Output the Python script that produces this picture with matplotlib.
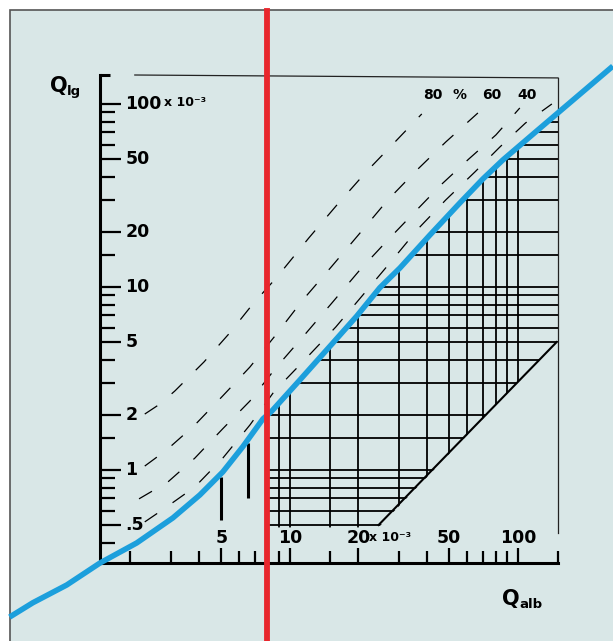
import matplotlib.pyplot as plt
import matplotlib.transforms as mtransforms
from matplotlib.patches import Polygon, Rectangle

# Q_alb (x) and Q_lg (y), both in units of 10^-3
blue_x = [0.59, 0.746, 1.05, 1.47, 2.13, 3.07, 4.03, 5.08, 6.22, 7.62,
          8.34, 11.06, 15.44, 19.67, 24.8, 30.4, 41.1, 55.7, 70.2, 85.9, 121, 157, 201, 261]
blue_y = [0.157, 0.188, 0.235, 0.31, 0.399, 0.547, 0.730, 0.975, 1.34, 1.90,
          2.10, 3.10, 4.94, 6.94, 9.9, 12.7, 19.2, 28.8, 38.9, 49.4, 71.2, 93.9, 122, 161]

# dashed iso-percentage curves (80 %, 60, 40 and the unlabelled lowest one)
c80_x = [2.31, 2.69, 3.13, 4.20, 5.45, 6.88, 8.77, 12.1, 16.1, 21.6, 29.2, 37.9]
c80_y = [2.02, 2.29, 2.70, 3.89, 5.61, 8.07, 11.3, 18.5, 28.1, 42.5, 62.8, 88.2]
c60_x = [2.31, 2.89, 3.83, 5.08, 6.68, 8.68, 11.3, 15.3, 20.3, 26.9, 35.7, 48.3, 66.8]
c60_y = [1.05, 1.29, 1.76, 2.54, 3.65, 5.47, 8.38, 13.0, 19.7, 29.9, 43.0, 62.0, 89.3]
c40_x = [2.18, 2.92, 3.83, 5.08, 6.68, 8.68, 11.6, 15.3, 20.3, 26.6, 35.0, 46.4, 61.0, 80.1, 102]
c40_y = [0.695, 0.86, 1.16, 1.68, 2.38, 3.61, 5.47, 8.18, 12.4, 17.8, 25.4, 36.5, 50.1, 67.7, 95.1]
c20_x = [2.31, 2.80, 3.83, 5.08, 6.68, 8.51, 11.6, 15.9, 21.1, 27.7, 36.4, 48.3, 64.8, 83.4, 108, 141]
c20_y = [0.52, 0.612, 0.807, 1.16, 1.76, 2.67, 3.99, 6.04, 9.16, 13.7, 20.7, 29.9, 42.5, 58.2, 78.7, 100]

red_x = 7.93

bar_x = [5.0, 6.54]
bar_lo = [0.533, 0.703]
bar_hi = [0.916, 1.40]

diag_x = [24.5, 148]
diag_y = [0.5, 5.0]

grid_x = [8, 9, 10, 15, 20, 30, 40, 50, 60, 70, 80, 90, 100]
grid_y = [0.5, 0.6, 0.7, 0.8, 0.9, 1, 1.5, 2, 3, 4, 5, 6, 7, 8, 9, 10,
          15, 20, 30, 40, 50, 60, 70, 80, 90]

x_major = [5, 10, 20, 50, 100]
x_minor = [2, 3, 4, 6, 7, 8, 9, 15, 30, 40, 60, 70, 80, 90, 150]
y_major = [0.5, 1, 2, 5, 10, 20, 50, 100]
y_minor = [0.4, 0.6, 0.7, 0.8, 0.9, 1.5, 3, 4, 6, 7, 8, 9, 15, 30, 40, 60, 70, 80, 90]
x_labels = ['5', '10', '20', '50', '100']
y_labels = ['.5', '1', '2', '5', '10', '20', '50', '100']

pct_labels = ['80', '%', '60', '40']
pct_x = [42.3, 55.5, 76.9, 110]
pct_y = 112

bg = '#d9e7e7'
blue = '#1c9fdc'
red = '#e8262c'

W, H = 613, 641
fig = plt.figure(figsize=(W / 100, H / 100), dpi=100)
fig.patch.set_facecolor('white')
fig.add_artist(Rectangle((10 / W, -0.05), 1.1, 1.05 - 10 / H, transform=fig.transFigure,
                         facecolor=bg, edgecolor='#555555', lw=1.2, zorder=0))

ax = fig.add_axes([100 / W, 1 - 563 / H, 458 / W, 488 / H])
ax.set_facecolor('none')
ax.set_xscale('log')
ax.set_yscale('log')
ax.set_xlim(1.47, 150)
ax.set_ylim(0.31, 144)

for s in ['top', 'right']:
    ax.spines[s].set_visible(False)
for s in ['left', 'bottom']:
    ax.spines[s].set_linewidth(2.2)

ax.set_xticks(x_major)
ax.set_xticks(x_minor, minor=True)
ax.set_yticks(y_major)
ax.set_yticks(y_minor, minor=True)
ax.tick_params(which='both', direction='in', labelbottom=False, labelleft=False, width=1.6)
ax.tick_params(axis='y', which='major', length=15)
ax.tick_params(axis='y', which='minor', length=10.5)
ax.tick_params(axis='x', which='major', length=11)
ax.tick_params(axis='x', which='minor', length=8.5)

# hook on top of the left axis, thin frame top and right
ax.plot([0, 0.022], [1, 1], transform=ax.transAxes, color='k', lw=2.2,
        solid_capstyle='butt', clip_on=False)
ax.plot([0.076, 1.0], [1.0, 0.994], transform=ax.transAxes, color='#222222', lw=0.9, clip_on=False)
ax.plot([1.0, 1.0], [0.994, 0.061], transform=ax.transAxes, color='#222222', lw=0.9, clip_on=False)

# hatched grid, clipped between the curve, the diagonal and the 0.5 line
clip_pts = [(x, y) for x, y in zip(blue_x, blue_y) if x >= 7.6]
clip_pts += [(blue_x[-1], diag_y[1]), (diag_x[1], diag_y[1]), (diag_x[0], diag_y[0] * 0.97),
             (7.6, diag_y[0] * 0.97)]
clip = Polygon(clip_pts, closed=True, transform=ax.transData)
vl = ax.vlines(grid_x, 0.45, 200, colors='k', lw=1.3, zorder=2)
hl = ax.hlines(grid_y, 7.9, 150, colors='k', lw=1.3, zorder=2)
vl.set_clip_path(clip)
hl.set_clip_path(clip)
ax.plot(diag_x, diag_y, color='k', lw=1.5, zorder=2)

for cx, cy in [(c80_x, c80_y), (c60_x, c60_y), (c40_x, c40_y), (c20_x, c20_y)]:
    ax.plot(cx, cy, color='k', lw=0.9, ls=(0, (12, 15)), zorder=2)

ax.vlines(bar_x, bar_lo, bar_hi, colors='k', lw=2.2, zorder=3)

ax.plot(blue_x, blue_y, color=blue, lw=4, clip_on=False, zorder=5,
        solid_capstyle='butt', solid_joinstyle='round')
ax.axvline(red_x, ymin=-0.17, ymax=(563 - 11) / 488, color=red, lw=4.2, clip_on=False, zorder=6)

# tick labels drawn inside the axes
tx = mtransforms.blended_transform_factory(ax.transData, ax.transAxes)
ty = mtransforms.blended_transform_factory(ax.transAxes, ax.transData)
for v, s in zip(x_major, x_labels):
    ax.text(v, 0.051, s, transform=tx, ha='center', va='center', fontsize=12.5, fontweight='bold')
ax.annotate('x 10⁻³', xy=(20, 0.051), xycoords=tx, xytext=(11, 1), textcoords='offset pixels',
            ha='left', va='center', fontsize=9, fontweight='bold')
for v, s in zip(y_major, y_labels):
    ax.text(0.055, v, s, transform=ty, ha='left', va='center', fontsize=12.5, fontweight='bold')
ax.annotate('x 10⁻³', xy=(0.055, 100), xycoords=ty, xytext=(39, 1), textcoords='offset pixels',
            ha='left', va='center', fontsize=9, fontweight='bold')

for v, s in zip(pct_x, pct_labels):
    ax.text(v, pct_y, s, ha='center', va='center', fontsize=10, fontweight='bold')

# axis names
fig.text(50 / W, 1 - 86 / H, 'Q', ha='left', va='center', fontsize=15, fontweight='bold')
fig.text(67 / W, 1 - 91 / H, 'lg', ha='left', va='center', fontsize=9.5, fontweight='bold')
fig.text(502 / W, 1 - 599 / H, 'Q', ha='left', va='center', fontsize=15, fontweight='bold')
fig.text(519 / W, 1 - 604 / H, 'alb', ha='left', va='center', fontsize=9.5, fontweight='bold')

fig.savefig('out.png', dpi=100)
